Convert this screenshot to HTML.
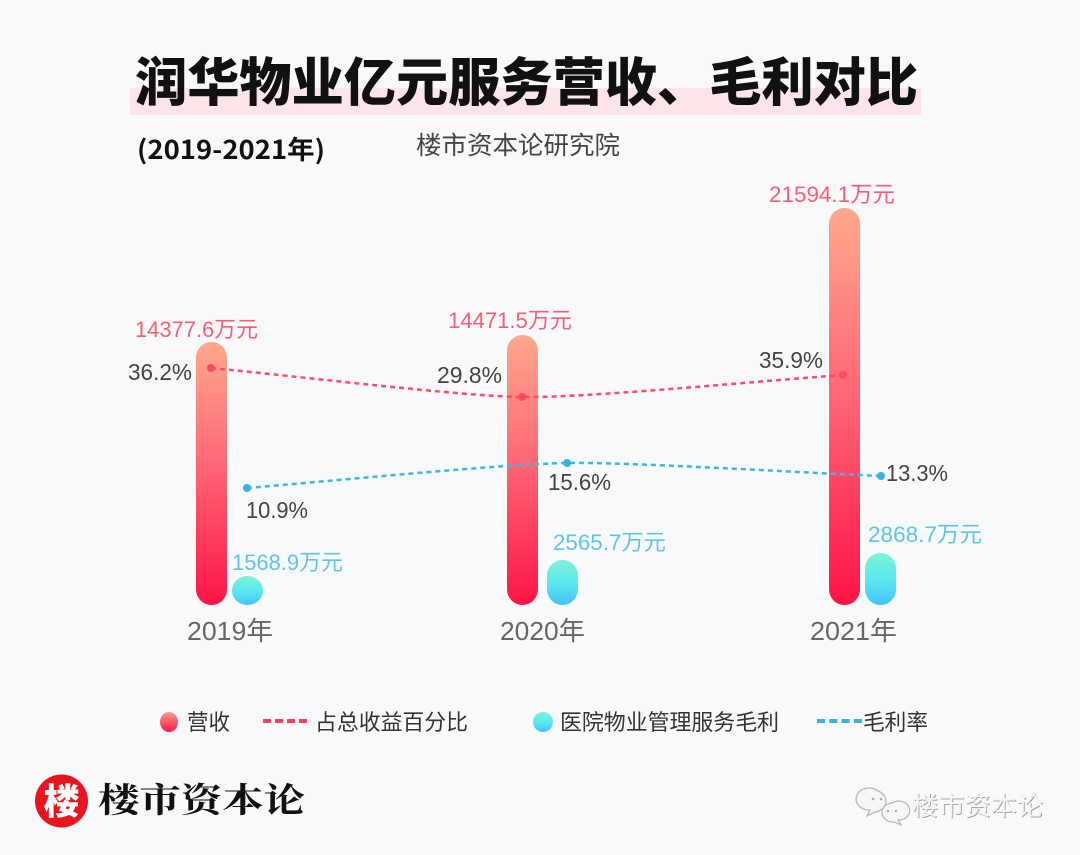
<!DOCTYPE html>
<html>
<head>
<meta charset="utf-8">
<style>
  html,body{margin:0;padding:0;background:#f7f9fb;}
  svg{display:block;}
</style>
</head>
<body>
<svg width="1080" height="855" viewBox="0 0 1080 855" xmlns="http://www.w3.org/2000/svg">
  <defs>
    <linearGradient id="gr" x1="0" y1="0" x2="0" y2="1">
      <stop offset="0" stop-color="#ffa88c"/>
      <stop offset="0.5" stop-color="#ff6274"/>
      <stop offset="1" stop-color="#ff1446"/>
    </linearGradient>
    <linearGradient id="gt" x1="0" y1="0" x2="0" y2="1">
      <stop offset="0" stop-color="#7cf3d8"/>
      <stop offset="0.5" stop-color="#5ce9f0"/>
      <stop offset="1" stop-color="#45c2f7"/>
    </linearGradient>
    <linearGradient id="lr" x1="0" y1="0" x2="0" y2="1">
      <stop offset="0" stop-color="#ff9a88"/>
      <stop offset="1" stop-color="#ff1a4a"/>
    </linearGradient>
  </defs>

  <rect x="0" y="0" width="1080" height="855" fill="#f7f9fb"/>

  <!-- Title -->
  <rect x="130" y="88" width="791" height="27" fill="#fde4e9"/>
  <text x="135" y="101" font-family="'Noto Sans CJK SC','WenQuanYi Zen Hei',sans-serif" font-weight="900" font-size="52" fill="#111" textLength="783" lengthAdjust="spacingAndGlyphs">润华物业亿元服务营收、毛利对比</text>

  <text x="137" y="159" font-family="'Noto Sans CJK SC',sans-serif" font-weight="700" font-size="26" fill="#111" textLength="188" lengthAdjust="spacingAndGlyphs">(2019-2021年)</text>
  <text x="416" y="154" font-family="'Noto Sans CJK SC',sans-serif" font-size="25" fill="#444" textLength="204" lengthAdjust="spacingAndGlyphs">楼市资本论研究院</text>

  <!-- Bars -->
  <rect x="196" y="342" width="31" height="263" rx="15.5" fill="url(#gr)"/>
  <rect x="507" y="335" width="31" height="270" rx="15.5" fill="url(#gr)"/>
  <rect x="829" y="208" width="31" height="397" rx="15.5" fill="url(#gr)"/>

  <rect x="232" y="576" width="31" height="29" rx="15.5" ry="14.5" fill="url(#gt)"/>
  <rect x="547" y="560" width="31" height="45" rx="15.5" fill="url(#gt)"/>
  <rect x="865" y="553" width="31" height="52" rx="15.5" fill="url(#gt)"/>

  <!-- Lines -->
  <path d="M211,368 C304,377 459,396 522,397 C585,398 747,382 843,375" fill="none" stroke="#ff4c67" stroke-width="2.5" stroke-dasharray="5,4"/>
  <path d="M247,488 C343,480 503,464 567,463 C630,462 787,472 881,476" fill="none" stroke="#3cb7e1" stroke-width="2.5" stroke-dasharray="5,4"/>
  <circle cx="211" cy="368" r="4" fill="#ff4a64"/>
  <circle cx="522" cy="397" r="4" fill="#ff4a64"/>
  <circle cx="843" cy="375" r="4" fill="#ff4a64"/>
  <circle cx="247" cy="488" r="4" fill="#36b4df"/>
  <circle cx="567" cy="463" r="4" fill="#36b4df"/>
  <circle cx="881" cy="476" r="4" fill="#36b4df"/>

  <!-- Labels -->
  <g font-family="'Liberation Sans','Noto Sans CJK SC',sans-serif">
    <g font-size="22" fill="#fd5d72">
      <text x="135" y="337" textLength="123" lengthAdjust="spacingAndGlyphs">14377.6万元</text>
      <text x="448" y="328" textLength="124" lengthAdjust="spacingAndGlyphs">14471.5万元</text>
      <text x="769" y="202" textLength="126" lengthAdjust="spacingAndGlyphs">21594.1万元</text>
    </g>
    <g font-size="22" fill="#5ec5e6">
      <text x="232" y="570" textLength="111" lengthAdjust="spacingAndGlyphs">1568.9万元</text>
      <text x="553" y="550" textLength="113" lengthAdjust="spacingAndGlyphs">2565.7万元</text>
      <text x="868" y="542" textLength="114" lengthAdjust="spacingAndGlyphs">2868.7万元</text>
    </g>
    <g font-size="23" fill="#444">
      <text x="128" y="380" textLength="64" lengthAdjust="spacingAndGlyphs">36.2%</text>
      <text x="437" y="383" textLength="65" lengthAdjust="spacingAndGlyphs">29.8%</text>
      <text x="759" y="368" textLength="64" lengthAdjust="spacingAndGlyphs">35.9%</text>
      <text x="246" y="518" textLength="62" lengthAdjust="spacingAndGlyphs">10.9%</text>
      <text x="548" y="490" textLength="63" lengthAdjust="spacingAndGlyphs">15.6%</text>
      <text x="886" y="481" textLength="62" lengthAdjust="spacingAndGlyphs">13.3%</text>
    </g>
    <g font-size="26" fill="#666">
      <text x="187" y="640" textLength="86" lengthAdjust="spacingAndGlyphs">2019年</text>
      <text x="500" y="640" textLength="85" lengthAdjust="spacingAndGlyphs">2020年</text>
      <text x="810" y="640" textLength="87" lengthAdjust="spacingAndGlyphs">2021年</text>
    </g>
  </g>

  <!-- Legend -->
  <ellipse cx="169" cy="722" rx="9" ry="10" fill="url(#lr)"/>
  <line x1="263" y1="721" x2="307" y2="721" stroke="#ff3f5e" stroke-width="4" stroke-dasharray="8,4"/>
  <ellipse cx="543" cy="722" rx="10" ry="10" fill="url(#gt)"/>
  <line x1="817" y1="721" x2="862" y2="721" stroke="#36b4df" stroke-width="4" stroke-dasharray="8,4.3"/>
  <g font-family="'Noto Sans CJK SC',sans-serif" font-size="22" fill="#333">
    <text x="187" y="730" textLength="43" lengthAdjust="spacingAndGlyphs">营收</text>
    <text x="315" y="730" textLength="153" lengthAdjust="spacingAndGlyphs">占总收益百分比</text>
    <text x="560" y="730" textLength="219" lengthAdjust="spacingAndGlyphs">医院物业管理服务毛利</text>
    <text x="863" y="730" textLength="65" lengthAdjust="spacingAndGlyphs">毛利率</text>
  </g>

  <!-- Logo -->
  <circle cx="61.5" cy="801" r="26.5" fill="#e8141e"/>
  <text x="61.5" y="814" text-anchor="middle" font-family="'Noto Sans CJK SC',sans-serif" font-weight="900" font-size="36" fill="#fff">楼</text>
  <text x="98" y="812" font-family="'Noto Serif CJK SC','Noto Sans CJK SC',serif" font-weight="700" font-size="34" fill="#111" textLength="207" lengthAdjust="spacingAndGlyphs">楼市资本论</text>

  <!-- Watermark -->
  <g fill="#f5f6f8" stroke="#b5b5b5" stroke-width="1.2">
    <path d="M878,791 a13,11 0 1 0 -8,19 l-3,6 l8,-4 a13,11 0 0 0 3,-21 z"/>
    <path d="M892,803 a11,9.5 0 1 1 6,17 l3,5 l-7,-3 a11,9.5 0 0 1 -2,-19 z"/>
  </g>
  <circle cx="873" cy="799" r="1.3" fill="#aaa"/>
  <circle cx="881" cy="799" r="1.3" fill="#aaa"/>
  <circle cx="888" cy="811" r="1.2" fill="#aaa"/>
  <circle cx="896" cy="811" r="1.2" fill="#aaa"/>
  <text x="913" y="816" font-family="'Noto Sans CJK SC',sans-serif" font-size="26" fill="#a9a9a9" textLength="131" lengthAdjust="spacingAndGlyphs">楼市资本论</text>
  <text x="912" y="815" font-family="'Noto Sans CJK SC',sans-serif" font-size="26" fill="#f4f5f7" textLength="131" lengthAdjust="spacingAndGlyphs">楼市资本论</text>
</svg>
</body>
</html>
